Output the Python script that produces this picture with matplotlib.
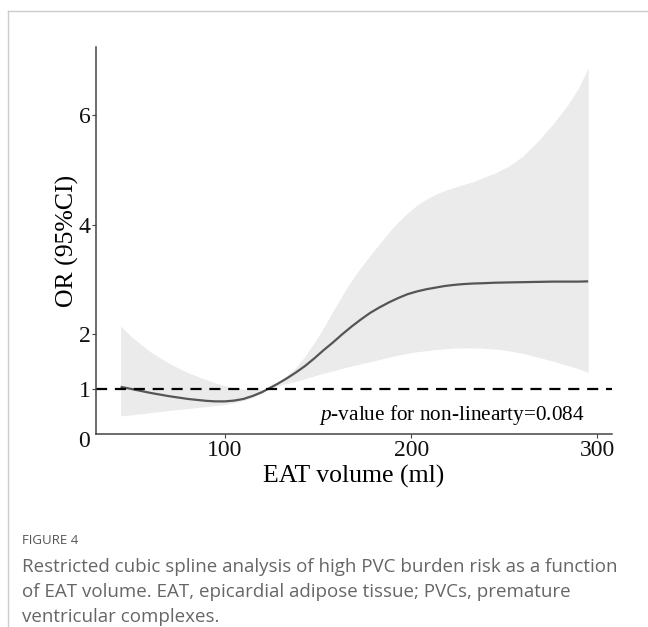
import matplotlib
matplotlib.use("Agg")
import matplotlib.pyplot as plt
import matplotlib.transforms as mtransforms
from matplotlib.lines import Line2D

# ---- data ----
eat_volume = [44, 50, 60, 70, 80, 90, 95, 100, 105, 110, 115, 120, 123, 128,
              133, 138, 143, 148, 153, 158, 163, 168, 173, 178, 183, 188, 193,
              198, 203, 208, 213, 218, 223, 228, 233, 238, 245, 252, 260, 268,
              276, 284, 290, 295]
or_value = [1.04, 1.00, 0.93, 0.87, 0.82, 0.785, 0.775, 0.775, 0.79, 0.82,
            0.875, 0.945, 1.00, 1.09, 1.19, 1.30, 1.42, 1.56, 1.71, 1.85,
            2.00, 2.14, 2.27, 2.39, 2.49, 2.58, 2.66, 2.73, 2.78, 2.82, 2.85,
            2.88, 2.90, 2.915, 2.925, 2.93, 2.94, 2.945, 2.95, 2.955, 2.96,
            2.96, 2.96, 2.965]
ci_upper = [2.15, 1.95, 1.68, 1.47, 1.30, 1.17, 1.11, 1.06, 1.02, 1.00, 0.99,
            0.99, 1.00, 1.12, 1.24, 1.39, 1.60, 1.85, 2.12, 2.42, 2.71, 2.98,
            3.22, 3.44, 3.65, 3.86, 4.05, 4.21, 4.35, 4.46, 4.55, 4.62, 4.68,
            4.73, 4.78, 4.85, 4.94, 5.06, 5.25, 5.52, 5.83, 6.18, 6.50, 6.86]
ci_lower = [0.51, 0.53, 0.57, 0.61, 0.645, 0.68, 0.70, 0.72, 0.75, 0.79, 0.85,
            0.93, 1.00, 1.06, 1.10, 1.14, 1.19, 1.24, 1.29, 1.33, 1.38, 1.42,
            1.46, 1.50, 1.54, 1.58, 1.62, 1.65, 1.68, 1.70, 1.72, 1.735,
            1.745, 1.75, 1.75, 1.745, 1.73, 1.70, 1.65, 1.58, 1.51, 1.43,
            1.37, 1.30]
x_ticks = [100, 200, 300]
y_ticks = [1, 2, 4, 6]
reference_or = 1
annotation = "$\\it{p}$-value for non-linearty=0.084"
caption_title = "FIGURE 4"
caption_lines = [
    "Restricted cubic spline analysis of high PVC burden risk as a function",
    "of EAT volume. EAT, epicardial adipose tissue; PVCs, premature",
    "ventricular complexes.",
]

plt.rcParams['mathtext.fontset'] = 'custom'
plt.rcParams['mathtext.it'] = 'Liberation Serif:italic'
plt.rcParams['mathtext.rm'] = 'Liberation Serif'

SERIF = "Liberation Serif"
fig = plt.figure(figsize=(6.48, 6.27), dpi=100)
ax = fig.add_axes([96/648, 1-434/627, (612-96)/648, (434-47)/627])

ax.fill_between(eat_volume, ci_lower, ci_upper, color="#ebebeb", lw=0)
ax.plot(eat_volume, or_value, color="#555555", lw=1.6,
        solid_capstyle="butt", solid_joinstyle="round")
ax.axhline(reference_or, color="black", lw=1.6, ls=(0, (5, 3.5)))

ax.set_xlim(30.8, 307.8)
ax.set_ylim(0.18, 7.24)
ax.set_xticks(x_ticks)
ax.set_yticks(y_ticks)
ax.set_xticklabels([str(v) for v in x_ticks])
ax.set_yticklabels([str(v) for v in y_ticks])
for s in ["top", "right"]:
    ax.spines[s].set_visible(False)
for s in ["left", "bottom"]:
    ax.spines[s].set_color("#444444")
    ax.spines[s].set_linewidth(1.1)
ax.tick_params(length=3, width=0.8, color="#444444", pad=1, labelsize=17)
for lab in ax.get_xticklabels() + ax.get_yticklabels():
    lab.set_fontfamily(SERIF)
    lab.set_color("#111111")
# zero label (its tick lies just below the axis line)
trans = mtransforms.blended_transform_factory(ax.transAxes, ax.transData)
ax.text(-0.012, 0.04, "0", transform=trans, ha="right", va="center",
        fontsize=17, family=SERIF, color="#111111")

ax.set_xlabel("EAT volume (ml)", fontsize=18.5, family=SERIF, labelpad=3)
ax.set_ylabel("OR (95%CI)", fontsize=18.5, family=SERIF, labelpad=0)
ax.text(293, 0.53, annotation, ha="right", va="center", fontsize=15.3,
        family=SERIF)

# caption and frame
fig.add_artist(Line2D([8/648, 1], [1-11/627, 1-11/627], color="#cccccc",
                      lw=1, transform=fig.transFigure))
fig.add_artist(Line2D([8/648, 8/648], [0, 1-11/627], color="#cccccc",
                      lw=1, transform=fig.transFigure))
fig.text(22/648, 1-541/627, caption_title, fontsize=9.5, family="Open Sans",
         color="#555555", va="center", ha="left")
for i, line in enumerate(caption_lines):
    fig.text(22/648, 1-(567+25*i)/627, line, fontsize=13.5,
             family="Open Sans", color="#666666", va="center", ha="left")

fig.savefig("out.png", dpi=100)
